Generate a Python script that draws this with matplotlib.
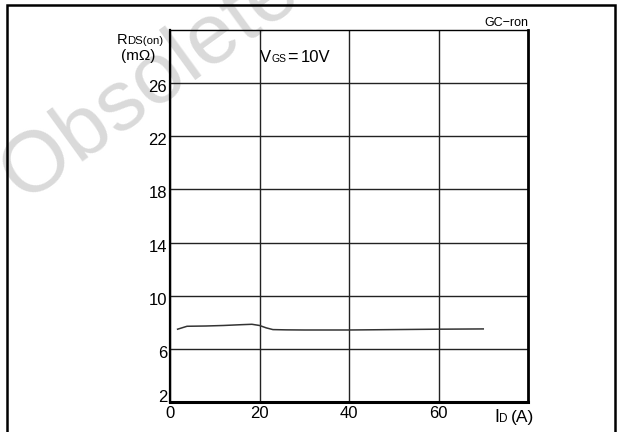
import matplotlib
matplotlib.use("Agg")
import matplotlib.pyplot as plt
from matplotlib.patches import Rectangle
from matplotlib.transforms import ScaledTranslation

# Data
id_a = [1.7, 3.8, 8, 12, 16, 18.3, 20, 21.5, 23, 26, 30, 40, 50, 60, 70]
rds_mohm = [7.48, 7.70, 7.72, 7.76, 7.82, 7.85, 7.76, 7.58, 7.45, 7.43, 7.42, 7.42, 7.45, 7.48, 7.50]
x_ticks = [0, 20, 40, 60]
y_ticks = [2, 6, 10, 14, 18, 22, 26]

W, H = 623, 432
DPI = 100
fig = plt.figure(figsize=(W / DPI, H / DPI), dpi=DPI)
plt.rcParams['font.family'] = ['Liberation Sans', 'DejaVu Sans']

def fx(px):
    return px / W

def fy(py):
    return 1 - py / H

# watermark
fig.text(fx(24), fy(204), "Obsolete Product(s)", fontsize=62, color="#dadada",
         rotation=36, ha="left", va="baseline", zorder=-5, rotation_mode="anchor")

ax = fig.add_axes([fx(170), fy(402), fx(528) - fx(170), fy(30) - fy(402)])
ax.patch.set_alpha(0)
ax.set_xlim(0, 80)
ax.set_ylim(2, 30)
ax.set_xticks(x_ticks)
ax.set_yticks(y_ticks)
ax.set_xticklabels([str(v) for v in x_ticks], fontsize=12)
ax.set_yticklabels([])
ax.tick_params(length=0)
ax.tick_params(axis='x', pad=3)
ax.grid(True, color="#222222", linewidth=1.0)
ax.set_axisbelow(True)
for s, lw in [("left", 1.6), ("bottom", 2.2), ("right", 2.0), ("top", 1.0)]:
    ax.spines[s].set_linewidth(lw)
    ax.spines[s].set_color("black")

# y tick labels (hang slightly below their grid lines, bottom one above the axis)
ytr = ax.get_yaxis_transform()
for v in y_ticks:
    dy = 4.5 if v != y_ticks[0] else -4.5
    off = ScaledTranslation(-3 / DPI, -dy / DPI, fig.dpi_scale_trans)
    ax.text(0, v, str(v), transform=ytr + off, ha="right", va="center", fontsize=12)

ax.plot(id_a, rds_mohm, color="#333333", linewidth=1.1)

# border
fig.patches.append(Rectangle((fx(7), -0.05), fx(615) - fx(7), fy(5) + 0.05,
                             transform=fig.transFigure, fill=False,
                             edgecolor="black", linewidth=1.8))

# labels
fig.text(fx(117), fy(44), "R", fontsize=10.5, ha="left", va="baseline")
fig.text(fx(127), fy(44), "DS(on)", fontsize=8.2, ha="left", va="baseline")
fig.text(fx(121), fy(60), "(m\u03a9)", fontsize=11, ha="left", va="baseline")

fig.text(fx(260), fy(62), "V", fontsize=12, ha="left", va="baseline")
fig.text(fx(271), fy(62), "GS", fontsize=7.5, ha="left", va="baseline")
fig.text(fx(287), fy(62), "=", fontsize=13, ha="left", va="baseline")
fig.text(fx(301), fy(62), "10V", fontsize=12, ha="left", va="baseline")

fig.text(fx(528), fy(26), "GC\u2212ron", fontsize=9, ha="right", va="baseline")

fig.text(fx(494), fy(422), "I", fontsize=13, ha="left", va="baseline")
fig.text(fx(499), fy(422), "D", fontsize=8.5, ha="left", va="baseline")
fig.text(fx(511), fy(422), "(A)", fontsize=12.5, ha="left", va="baseline")

fig.savefig("out.png", dpi=DPI)
